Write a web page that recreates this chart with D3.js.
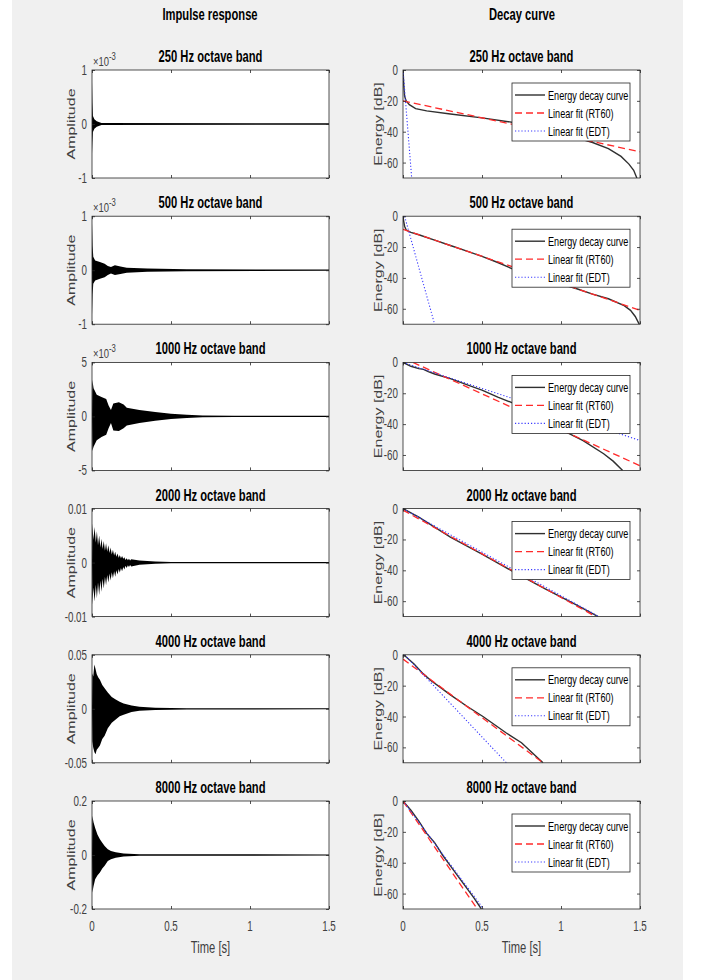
<!DOCTYPE html>
<html><head><meta charset="utf-8">
<script src="https://cdn.jsdelivr.net/npm/d3@7"></script>
<style>
body{margin:0;background:#fff}
svg{display:block}
text{font-family:"Liberation Sans",Arial,Helvetica,sans-serif}
</style>
</head><body>
<svg id="chart" width="702" height="980"></svg>
<script>
// ---------------- DATA ----------------
const bands = ["250 Hz octave band","500 Hz octave band","1000 Hz octave band","2000 Hz octave band","4000 Hz octave band","8000 Hz octave band"];
const timeTicks = [0, 0.5, 1, 1.5];
const timeTickLabels = ["0","0.5","1","1.5"];
const ampMax = [1e-3, 1e-3, 5e-3, 0.01, 0.05, 0.2];
const ampTickLabels = [["-1","0","1"],["-1","0","1"],["-5","0","5"],["-0.01","0","0.01"],["-0.05","0","0.05"],["-0.2","0","0.2"]];
const ampExponent = ["-3","-3","-3",null,null,null];
const dbTicks = [-60, -40, -20, 0];
const dbTickLabels = ["-60","-40","-20","0"];
const legendLabels = ["Energy decay curve","Linear fit (RT60)","Linear fit (EDT)"];

// impulse response envelopes: [time s, upper, lower]
const ir250 = [[0,0,0],[0.001,0.78e-3,-0.55e-3],[0.003,0.40e-3,-0.35e-3],[0.006,0.15e-3,-0.15e-3],[0.015,0.09e-3,-0.09e-3],[0.03,0.05e-3,-0.05e-3],[0.06,0.02e-3,-0.02e-3],[1.5,0.012e-3,-0.012e-3]];
const ir500 = [[0,0,0],[0.001,0.87e-3,-0.83e-3],[0.004,0.45e-3,-0.45e-3],[0.008,0.25e-3,-0.25e-3],[0.02,0.18e-3,-0.19e-3],[0.05,0.15e-3,-0.16e-3],[0.08,0.12e-3,-0.13e-3],[0.1,0.08e-3,-0.09e-3],[0.12,0.06e-3,-0.06e-3],[0.145,0.09e-3,-0.09e-3],[0.18,0.07e-3,-0.07e-3],[0.22,0.045e-3,-0.045e-3],[0.35,0.03e-3,-0.03e-3],[0.6,0.018e-3,-0.018e-3],[1.5,0.012e-3,-0.012e-3]];
const ir1000 = [[0,0,0],[0.002,3.4e-3,-3.2e-3],[0.01,2.6e-3,-2.8e-3],[0.03,2.0e-3,-2.2e-3],[0.06,1.8e-3,-1.9e-3],[0.09,1.6e-3,-1.7e-3],[0.105,1.0e-3,-1.1e-3],[0.12,0.6e-3,-0.6e-3],[0.135,1.2e-3,-1.3e-3],[0.17,1.3e-3,-1.35e-3],[0.2,1.1e-3,-1.1e-3],[0.22,0.8e-3,-0.85e-3],[0.3,0.6e-3,-0.6e-3],[0.4,0.4e-3,-0.4e-3],[0.5,0.25e-3,-0.25e-3],[0.6,0.15e-3,-0.15e-3],[0.7,0.09e-3,-0.09e-3],[0.9,0.065e-3,-0.065e-3],[1.5,0.055e-3,-0.055e-3]];
const ir2000 = [[0,0,0],[0.002,0.0073,-0.0078],[0.009,0.0042,-0.0046],[0.0165,0.0066,-0.0072],[0.024,0.0037,-0.0041],[0.031,0.0058,-0.0066],[0.038,0.0032,-0.0037],[0.0455,0.0050,-0.0060],[0.053,0.0028,-0.0033],[0.06,0.0044,-0.0054],[0.067,0.0025,-0.0030],[0.0745,0.0040,-0.0048],[0.082,0.0022,-0.0026],[0.089,0.0036,-0.0042],[0.096,0.0020,-0.0023],[0.1035,0.0032,-0.0037],[0.111,0.0018,-0.0020],[0.118,0.0028,-0.0033],[0.125,0.0015,-0.0018],[0.1325,0.0024,-0.0029],[0.14,0.0013,-0.0016],[0.147,0.0020,-0.0026],[0.154,0.0011,-0.0014],[0.1615,0.0017,-0.0022],[0.169,0.0009,-0.0012],[0.176,0.0014,-0.0019],[0.183,0.0008,-0.0010],[0.1905,0.0012,-0.0016],[0.198,0.0007,-0.0008],[0.205,0.0010,-0.0013],[0.212,0.0005,-0.0006],[0.2195,0.0008,-0.0010],[0.227,0.00045,-0.0005],[0.234,0.0007,-0.0008],[0.241,0.0004,-0.00045],[0.2485,0.0006,-0.0007],[0.3,0.0004,-0.0004],[0.4,0.0002,-0.0002],[0.5,0.00013,-0.00013],[1.5,0.0001,-0.0001]];
const ir4000 = [[0,0,0],[0.002,0.033,-0.030],[0.008,0.030,-0.036],[0.015,0.041,-0.040],[0.022,0.037,-0.042],[0.03,0.032,-0.038],[0.04,0.029,-0.036],[0.05,0.027,-0.034],[0.065,0.022,-0.028],[0.08,0.019,-0.025],[0.1,0.015,-0.018],[0.125,0.011,-0.013],[0.15,0.0085,-0.010],[0.175,0.0065,-0.007],[0.2,0.005,-0.0055],[0.25,0.003,-0.003],[0.3,0.0018,-0.0018],[0.4,0.001,-0.001],[0.6,0.0006,-0.0006],[1.5,0.0005,-0.0005]];
const ir8000 = [[0,0,0],[0.002,0.145,-0.14],[0.01,0.12,-0.115],[0.02,0.10,-0.09],[0.035,0.075,-0.075],[0.05,0.058,-0.065],[0.065,0.045,-0.05],[0.08,0.033,-0.04],[0.1,0.021,-0.022],[0.12,0.015,-0.016],[0.15,0.010,-0.010],[0.2,0.0055,-0.0055],[0.3,0.003,-0.003],[1.5,0.0022,-0.0022]];
const irData = [ir250, ir500, ir1000, ir2000, ir4000, ir8000];

// energy decay curves: [time s, dB]
const edc250 = [[0,0],[0.005,-10],[0.01,-17],[0.02,-20],[0.04,-22.5],[0.08,-25],[0.15,-26.5],[0.3,-28.5],[0.5,-31],[0.7,-34],[0.9,-38],[1.1,-44],[1.2,-47],[1.3,-51],[1.38,-56],[1.43,-61],[1.46,-65],[1.48,-70]];
const edc500 = [[0,0],[0.004,-3],[0.01,-6.5],[0.02,-9],[0.05,-10.5],[0.1,-12],[0.2,-15.5],[0.3,-19],[0.4,-22.5],[0.5,-26],[0.6,-30],[0.7,-34.5],[0.8,-37.5],[0.9,-41],[1.0,-44],[1.1,-47],[1.2,-50.5],[1.3,-53.5],[1.4,-58],[1.44,-61],[1.47,-65],[1.49,-69],[1.5,-71]];
const edc1000 = [[0,0],[0.05,-2.5],[0.1,-4],[0.13,-4.5],[0.16,-6],[0.2,-7.5],[0.3,-10.5],[0.42,-15],[0.5,-18],[0.6,-22.5],[0.7,-26.5],[0.8,-32],[0.9,-38],[1.03,-45],[1.14,-50.7],[1.27,-59.2],[1.33,-64],[1.39,-70]];
const edc2000 = [[0,0],[0.1,-5.5],[0.2,-12],[0.3,-18.5],[0.5,-29.5],[0.7,-41],[0.9,-52],[1.1,-62.5],[1.235,-70]];
const edc4000 = [[0,0],[0.015,-1],[0.07,-6],[0.127,-12.2],[0.18,-17],[0.232,-20.8],[0.3,-26],[0.4,-33],[0.506,-40],[0.654,-50.7],[0.75,-57],[0.886,-70]];
const edc8000 = [[0,0],[0.05,-6],[0.1,-13],[0.15,-21],[0.2,-27],[0.25,-35],[0.3,-42],[0.35,-49],[0.4,-56],[0.45,-63],[0.496,-70]];
const edcData = [edc250, edc500, edc1000, edc2000, edc4000, edc8000];

// linear fits: [[t0, dB0], [t1, dB1]]
const rt60Fit = [[[0,-20],[1.5,-53]],[[0,-8.5],[1.5,-61]],[[0.063,0],[1.5,-67]],[[0,-1],[1.22,-70]],[[0,-2.8],[0.886,-70]],[[0,0],[0.47,-70]]];
const edtFit = [[[0,0],[0.055,-70]],[[0.01,0],[0.2,-70]],[[0,0],[1.5,-50.6]],[[0,0],[1.24,-70]],[[0.01,0],[0.654,-70]],[[0,0],[0.51,-70]]];

// ---------------- LAYOUT ----------------
const K = 0.7; // horizontal glyph compression of the original figure
const svg = d3.select("#chart");
svg.append("rect").attr("x",12).attr("y",0).attr("width",671).attr("height",980).attr("fill","#f0f0f0");

function txt(g, x, y, s, o) {
  o = o || {};
  const t = g.append("text")
    .attr("transform", `translate(${x},${y}) scale(${K},1)` + (o.rot ? ` rotate(${o.rot})` : ""))
    .attr("text-anchor", o.anchor || "middle")
    .attr("font-size", o.size || 14)
    .attr("font-weight", o.bold ? "bold" : "normal")
    .attr("fill", o.color || "#000")
    .text(s);
  return t;
}

const colL = [92, 329], colR = [403, 640];
const panelH = 108;
const tops = d3.range(6).map(i => 70 + i * 146.2);
const axisColor = "#262626";

txt(svg, 210, 19.5, "Impulse response", {bold:true, size:16});
txt(svg, 522, 19.5, "Decay curve", {bold:true, size:16});

function frame(g, x, y, xVals, yVals) {
  const [x0, x1] = x.range();
  const [y1, y0] = y.range();
  g.append("g").attr("transform", `translate(0,${y1})`).call(d3.axisBottom(x).tickValues(xVals).tickSize(-3).tickFormat(""));
  g.append("g").attr("transform", `translate(0,${y0})`).call(d3.axisTop(x).tickValues(xVals).tickSize(-3).tickFormat(""));
  g.append("g").attr("transform", `translate(${x0},0)`).call(d3.axisLeft(y).tickValues(yVals).tickSize(-3).tickFormat(""));
  g.append("g").attr("transform", `translate(${x1},0)`).call(d3.axisRight(y).tickValues(yVals).tickSize(-3).tickFormat(""));
  g.selectAll(".domain").remove();
  g.selectAll(".tick line").attr("stroke", axisColor).attr("stroke-width", 0.8);
  g.append("rect").attr("x", x0).attr("y", y0).attr("width", x1 - x0).attr("height", y1 - y0)
    .attr("fill", "none").attr("stroke", axisColor).attr("stroke-width", 0.8);
}

tops.forEach((top, i) => {
  // -------- impulse response panel --------
  const gL = svg.append("g");
  const x = d3.scaleLinear().domain([0, 1.5]).range(colL);
  const y = d3.scaleLinear().domain([-ampMax[i], ampMax[i]]).range([top + panelH, top]);
  gL.append("rect").attr("x", colL[0]).attr("y", top).attr("width", colL[1]-colL[0]).attr("height", panelH).attr("fill", "#fff");
  const area = d3.area().x(d => x(d[0])).y0(d => y(d[2])).y1(d => y(d[1]));
  gL.append("path").datum(irData[i]).attr("d", area).attr("fill", "#000");
  const yVals = [-ampMax[i], 0, ampMax[i]];
  frame(gL, x, y, timeTicks, yVals);
  yVals.forEach((v, j) => txt(gL, colL[0] - 5, y(v) + 5, ampTickLabels[i][j], {anchor:"end", size:14, color:"#404040"}));
  if (ampExponent[i]) {
    const t = txt(gL, colL[0] + 1, top - 4, "×10", {anchor:"start", size:13.5, color:"#404040"});
    t.append("tspan").attr("dy", -6).attr("font-size", 11).text(ampExponent[i]);
  }
  txt(gL, 75, top + panelH / 2, "Amplitude", {rot:-90, size:16, color:"#404040"});
  txt(gL, (colL[0] + colL[1]) / 2, top - 8, bands[i], {bold:true, size:16});

  // -------- decay curve panel --------
  const gR = svg.append("g");
  const xr = d3.scaleLinear().domain([0, 1.5]).range(colR);
  const yr = d3.scaleLinear().domain([-70, 0]).range([top + panelH, top]);
  gR.append("rect").attr("x", colR[0]).attr("y", top).attr("width", colR[1]-colR[0]).attr("height", panelH).attr("fill", "#fff");
  const clipId = "clip" + i;
  svg.append("clipPath").attr("id", clipId).append("rect")
    .attr("x", colR[0]).attr("y", top).attr("width", colR[1]-colR[0]).attr("height", panelH);
  const line = d3.line().x(d => xr(d[0])).y(d => yr(d[1]));
  const gc = gR.append("g").attr("clip-path", `url(#${clipId})`);
  gc.append("path").datum(edcData[i]).attr("d", line).attr("fill", "none").attr("stroke", "#303030").attr("stroke-width", 1.4);
  gc.append("path").datum(rt60Fit[i]).attr("d", line).attr("fill", "none").attr("stroke", "#ff2a2a").attr("stroke-width", 1.3).attr("stroke-dasharray", "7,4");
  gc.append("path").datum(edtFit[i]).attr("d", line).attr("fill", "none").attr("stroke", "#3a3aff").attr("stroke-width", 1.1).attr("stroke-dasharray", "1.2,2");
  frame(gR, xr, yr, timeTicks, dbTicks);
  dbTicks.forEach((v, j) => txt(gR, colR[0] - 5, yr(v) + 5, dbTickLabels[j], {anchor:"end", size:14, color:"#404040"}));
  txt(gR, 382, top + panelH / 2, "Energy [dB]", {rot:-90, size:16, color:"#404040"});
  txt(gR, (colR[0] + colR[1]) / 2, top - 8, bands[i], {bold:true, size:16});

  // legend
  const lx = colR[1] - 10 - 118, ly = top + 13;
  const lg = gR.append("g");
  lg.append("rect").attr("x", lx).attr("y", ly).attr("width", 118).attr("height", 58)
    .attr("fill", "#fff").attr("stroke", axisColor).attr("stroke-width", 0.8);
  const styles = [
    {c:"#303030", w:1.4, d:null},
    {c:"#ff2a2a", w:1.3, d:"7,4"},
    {c:"#3a3aff", w:1.1, d:"1.2,2"}
  ];
  legendLabels.forEach((lab, j) => {
    const yy = ly + 12 + j * 18;
    const l = lg.append("line").attr("x1", lx + 3).attr("x2", lx + 33).attr("y1", yy).attr("y2", yy)
      .attr("stroke", styles[j].c).attr("stroke-width", styles[j].w);
    if (styles[j].d) l.attr("stroke-dasharray", styles[j].d);
    txt(lg, lx + 36, yy + 4.5, lab, {anchor:"start", size:13});
  });

  // bottom x labels
  if (i === 5) {
    [[x, colL], [xr, colR]].forEach(([sc, col]) => {
      timeTicks.forEach((v, j) => txt(svg, sc(v), top + panelH + 22, timeTickLabels[j], {size:14, color:"#404040"}));
      txt(svg, (col[0] + col[1]) / 2, top + panelH + 44, "Time [s]", {size:16, color:"#404040"});
    });
  }
});
</script>
</body></html>
